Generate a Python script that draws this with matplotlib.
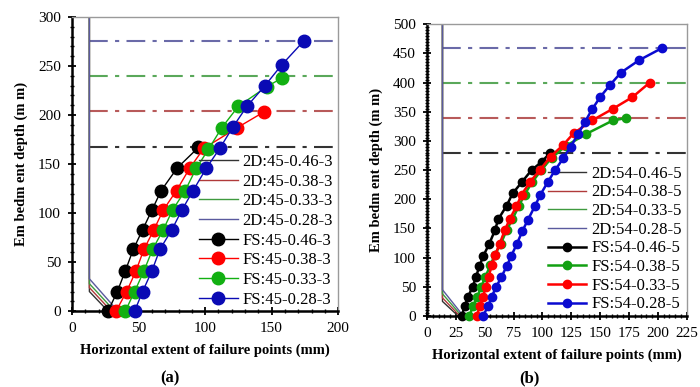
import matplotlib
matplotlib.use("Agg")
import matplotlib.pyplot as plt
from matplotlib.ticker import MultipleLocator

plt.rcParams['font.family'] = ['Liberation Serif', 'DejaVu Serif']

# ---------------- Panel (a) data ----------------
a_fs_labels = ["FS:45-0.46-3", "FS:45-0.38-3", "FS:45-0.33-3", "FS:45-0.28-3"]
a_2d_labels = ["2D:45-0.46-3", "2D:45-0.38-3", "2D:45-0.33-3", "2D:45-0.28-3"]

a_black_x = [27, 34, 40, 46, 53, 60, 67, 79, 95]
a_black_y = [0, 20, 41, 63, 83, 103, 123, 146, 167]
a_red_x = [33, 41, 48, 54, 61.5, 68.5, 78.5, 88.5, 99, 124, 144]
a_red_y = [0, 20, 41, 63, 83, 103, 123, 146, 166, 187, 203]
a_green_x = [40, 47, 54, 60.5, 68.5, 75.5, 85, 93.5, 102.5, 112.5, 125, 146.5, 158]
a_green_y = [0, 20, 41, 63, 83, 103, 123, 146, 165, 187, 209, 229, 238]
a_blue_x = [47, 53, 60, 66, 75, 82.5, 91, 101, 111, 121, 131.5, 145, 157.5, 174.5]
a_blue_y = [0, 20, 41, 63, 83, 103, 123, 146, 166, 188, 209, 230, 251, 276]

# 2D predictions: vertical wall line, knee, toe
a_2d_x = [[13, 13, 27], [13, 13, 29.5], [13, 13, 32], [13, 13, 34.5]]
a_2d_y = [[300, 20, 0], [300, 24, 0], [300, 28, 0], [300, 33, 0]]
a_depths = [167, 204, 240, 276]

# ---------------- Panel (b) data ----------------
b_fs_labels = ["FS:54-0.46-5", "FS:54-0.38-5", "FS:54-0.33-5", "FS:54-0.28-5"]
b_2d_labels = ["2D:54-0.46-5", "2D:54-0.38-5", "2D:54-0.33-5", "2D:54-0.28-5"]

b_black_x = [30, 32.7, 35.6, 39.5, 42.5, 45.3, 48.8, 54, 58.9, 61.8, 69, 74.2, 82, 90.6, 99.3, 106.4]
b_black_y = [0, 17, 33, 50, 67, 85, 103, 124, 147, 166, 189, 210, 229, 250, 264, 279]
b_green_x = [36.5, 40, 43.5, 47, 50.5, 55, 58.5, 64, 69, 74, 79.5, 84.5, 91, 99, 108, 120, 138, 161, 172]
b_green_y = [0, 17, 33, 50, 67, 87, 104, 124, 147, 166, 188, 208, 229, 250, 271, 291, 312, 335, 339]
b_red_x = [43, 45.8, 48.5, 51, 53.5, 56, 59, 63, 67.4, 71.7, 77.5, 82, 89, 97.7, 107, 118, 127, 143, 161, 178, 193]
b_red_y = [0, 17, 33, 50, 67, 87, 104, 124, 147, 166, 188, 208, 229, 250, 273, 293, 313, 335, 355, 375, 400]
b_blue_x = [48.5, 53, 56, 60, 64.5, 69, 73, 78, 82.5, 87.5, 93.4, 98.3, 104.5, 111, 118, 124.4, 131,
            136.7, 143, 150, 158.2, 168, 183.5, 203.5]
b_blue_y = [0, 17, 33, 50, 67, 85, 103, 124, 145, 165, 188, 208, 229, 250, 270, 290, 312, 332,
            354, 375, 395, 417, 438, 459]

b_2d_x = [[13.4, 13.4, 27], [13.4, 13.4, 28.5], [13.4, 13.4, 30], [13.4, 13.4, 31.5]]
b_2d_y = [[500, 25, 0], [500, 31, 0], [500, 38, 0], [500, 45, 0]]
b_depths = [280, 339, 400, 460]

# ---------------- styling ----------------
c_2d = ['#333333', '#b03a3a', '#3f9a3f', '#5a5a9e']
c_hl = ['#333333', '#b85a5a', '#5aa85a', '#6a6aa8']
c_fs = ['#000000', '#ff0000', '#12b012', '#0a0ab4']
dashdot = (0, (9, 3.5, 2, 3.5))

fig = plt.figure(figsize=(7.0, 3.87), dpi=100)
ax_a = fig.add_axes([0.103, 0.196, 0.380, 0.760])
ax_b = fig.add_axes([0.610, 0.1835, 0.371, 0.754])


def style_axes(ax, xmax, ymax, xmaj, xmin, ymaj, ymin):
    ax.set_xlim(0, xmax)
    ax.set_ylim(0, ymax)
    ax.xaxis.set_major_locator(MultipleLocator(xmaj))
    ax.xaxis.set_minor_locator(MultipleLocator(xmin))
    ax.yaxis.set_major_locator(MultipleLocator(ymaj))
    ax.yaxis.set_minor_locator(MultipleLocator(ymin))
    ax.tick_params(which='major', direction='inout', length=6, width=1.3,
                   labelsize=11, colors='black', top=False, right=False, pad=5)
    ax.tick_params(which='minor', direction='inout', length=3.5, width=1.0,
                   top=False, right=False)
    for s in ['left', 'bottom']:
        ax.spines[s].set_linewidth(1.8)
        ax.spines[s].set_color('black')
    for s in ['top', 'right']:
        ax.spines[s].set_linewidth(1.0)
        ax.spines[s].set_color('#9a9a9a')
    ax.set_xlabel("Horizontal extent of failure points (mm)", fontsize=10.5,
                  fontweight='bold', labelpad=6)
    ax.set_ylabel("Em bedm ent depth (m m)", fontsize=10.5, fontweight='bold', labelpad=7)


# ---- Panel (a)
style_axes(ax_a, 200, 300, 50, 10, 50, 10)
for i in range(4):
    ax_a.plot([a_2d_x[i][0], 200], [a_depths[i], a_depths[i]], color=c_hl[i], lw=1.5,
              linestyle=dashdot, zorder=1)
for i in range(4):
    ax_a.plot(a_2d_x[i], a_2d_y[i], color=c_2d[i], lw=1.0, label=a_2d_labels[i], zorder=2)
a_series = [(a_black_x, a_black_y), (a_red_x, a_red_y), (a_green_x, a_green_y), (a_blue_x, a_blue_y)]
for i, (xs, ys) in enumerate(a_series):
    ax_a.plot(xs, ys, color=c_fs[i], lw=1.0, marker='o', markersize=9,
              markeredgecolor=c_fs[i], label=a_fs_labels[i], zorder=3 + i, clip_on=False)
ax_a.legend(loc='lower right', bbox_to_anchor=(1.0, -0.005), frameon=False, fontsize=12,
            handlelength=2.3, handletextpad=0.3, labelspacing=0.22, borderpad=0.2,
            borderaxespad=0.1)

# ---- Panel (b)
style_axes(ax_b, 225, 500, 25, 5, 50, 5)
for i in range(4):
    ax_b.plot([b_2d_x[i][0], 225], [b_depths[i], b_depths[i]], color=c_hl[i], lw=1.5,
              linestyle=dashdot, zorder=1)
for i in range(4):
    ax_b.plot(b_2d_x[i], b_2d_y[i], color=c_2d[i], lw=1.0, label=b_2d_labels[i], zorder=2)
b_series = [(b_black_x, b_black_y, '#000000'), (b_green_x, b_green_y, '#12a012'),
            (b_red_x, b_red_y, '#ff0000'), (b_blue_x, b_blue_y, '#0a0ad0')]
for i, (xs, ys, col) in enumerate(b_series):
    ax_b.plot(xs, ys, color=col, lw=1.8, marker='o', markersize=6,
              markeredgecolor=col, label=b_fs_labels[i], zorder=3 + i, clip_on=False)
ax_b.legend(loc='lower right', bbox_to_anchor=(1.0, -0.005), frameon=False, fontsize=12,
            handlelength=2.3, handletextpad=0.3, labelspacing=0.16, borderpad=0.2,
            borderaxespad=0.1)

fig.text(0.243, 0.012, "(a)", fontsize=12, fontweight='bold', ha='center')
fig.text(0.757, 0.012, "(b)", fontsize=12, fontweight='bold', ha='center')

fig.savefig("out.png", dpi=100)
